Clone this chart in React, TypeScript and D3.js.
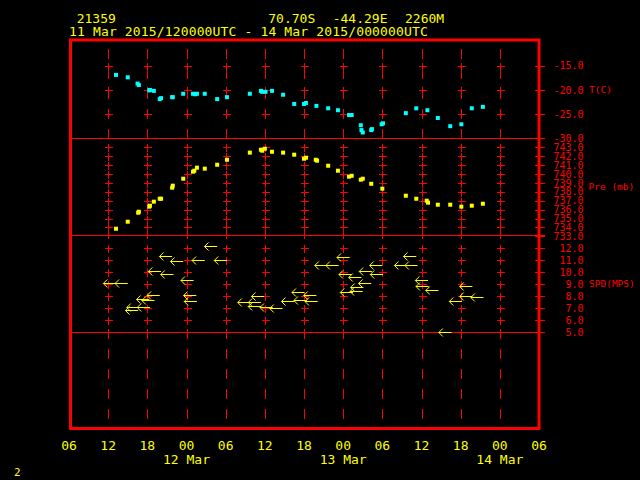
import React from 'react';
import * as d3 from 'd3';

// hours since 2015-03-11 00:00 UTC
const tHours = [13.2, 15.0, 16.5, 16.7, 18.3, 18.4, 19.0, 19.9, 20.1, 21.8, 21.9, 23.5, 25.0, 25.3, 25.6, 26.8, 28.7, 30.2, 33.7, 35.4, 35.6, 36.1, 37.1, 38.8, 40.5, 42.0, 42.3, 43.9, 45.7, 47.2, 48.9, 49.3, 50.7, 50.8, 51.0, 52.3, 52.4, 53.9, 54.1, 57.6, 59.2, 60.9, 62.5, 64.4, 66.1, 67.7, 69.4];
const tValues = [-16.9, -17.4, -18.7, -19.0, -20.1, -20.0, -20.2, -21.9, -21.7, -21.5, -21.5, -20.8, -20.8, -20.9, -20.8, -20.8, -21.9, -21.5, -20.8, -20.2, -20.4, -20.4, -20.2, -21.0, -22.9, -22.9, -22.7, -23.3, -23.8, -24.2, -25.2, -25.2, -27.3, -28.3, -28.8, -28.3, -28.1, -27.1, -26.9, -24.8, -23.8, -24.2, -25.8, -27.5, -27.1, -23.8, -23.5];

const pHours = [13.2, 15.0, 16.6, 16.7, 18.3, 18.4, 19.0, 19.9, 20.1, 21.8, 21.9, 23.5, 25.0, 25.2, 25.6, 26.8, 28.7, 30.2, 33.7, 35.4, 35.6, 36.0, 37.1, 38.8, 40.5, 42.0, 42.3, 43.8, 44.0, 45.7, 47.2, 48.9, 49.3, 50.7, 51.0, 52.3, 54.0, 57.6, 59.2, 60.8, 61.0, 62.5, 64.4, 66.1, 67.7, 69.4];
const pValues = [733.85, 734.64, 735.65, 735.76, 736.33, 736.44, 736.89, 737.22, 737.22, 738.46, 738.69, 739.47, 740.26, 740.37, 740.71, 740.6, 741.04, 741.6, 742.4, 742.73, 742.62, 742.84, 742.5, 742.4, 742.17, 741.72, 741.83, 741.6, 741.5, 740.93, 740.37, 739.7, 739.8, 739.36, 739.47, 738.9, 738.35, 737.56, 737.22, 737.0, 736.78, 736.55, 736.55, 736.33, 736.44, 736.66];

const wHours = [13.2, 15.0, 16.6, 16.8, 18.4, 18.3, 19.1, 19.9, 20.1, 21.8, 22.0, 23.5, 25.1, 25.5, 25.6, 26.8, 28.7, 30.2, 33.8, 35.4, 35.4, 35.9, 37.2, 38.7, 40.5, 42.1, 42.4, 43.9, 44.1, 45.6, 47.3, 49.0, 49.3, 49.5, 50.8, 51.0, 51.1, 52.3, 52.4, 54.0, 54.1, 57.8, 59.2, 59.4, 61.0, 61.1, 62.6, 64.6, 66.2, 67.8, 67.8, 69.5];
const wSpeeds = [9.08, 9.08, 6.88, 7.15, 7.07, 7.8, 7.72, 8.08, 10.08, 11.33, 9.82, 10.98, 9.33, 8.08, 7.63, 11.03, 12.19, 11.03, 7.5, 7.55, 7.18, 8.03, 7.09, 7.04, 7.63, 8.32, 7.68, 8.09, 7.63, 10.61, 10.61, 11.28, 9.82, 8.36, 9.61, 8.42, 8.75, 9.11, 10.07, 10.58, 9.88, 10.59, 11.34, 10.59, 9.33, 8.84, 8.54, 5.05, 7.57, 8.84, 8.0, 7.98];

const hourTickLabels = ['06', '12', '18', '00', '06', '12', '18', '00', '06', '12', '18', '00', '06'];
const dayLabels = ['12 Mar', '13 Mar', '14 Mar'];
const dayHours = [24, 48, 72];
const tTicks = [-15, -20, -25, -30];
const pTicks = [743, 742, 741, 740, 739, 738, 737, 736, 735, 734, 733];
const wTicks = [12, 11, 10, 9, 8, 7, 6, 5];

const RED = '#ff0000';
const YEL = '#ffff00';
const CYAN = '#00ffff';
const FONT = '"DejaVu Sans Mono", monospace';

export default function App() {
  const x = d3.scaleLinear().domain([6, 78]).range([69, 539]);
  const yT = d3.scaleLinear().domain([-15, -30]).range([65.7, 138.3]);
  const yP = d3.scaleLinear().domain([743, 733]).range([147.3, 236.3]);
  const yW = d3.scaleLinear().domain([12, 5]).range([248.3, 332.3]);

  const hourTicks = d3.range(6, 79, 6);
  const gridHours = hourTicks.slice(1, -1);
  const dashes = [[49, 59], [69, 79], [89, 99], [109, 119], [129, 138], [229, 239], [329, 339], [349, 359], [369, 379], [389, 399], [409, 419]];
  const crossYs = [
    ...tTicks.slice(0, -1).map((v) => yT(v)),
    ...pTicks.slice(0, -1).map((v) => yP(v)),
    ...wTicks.slice(0, -1).map((v) => yW(v)),
  ];
  const rightYs = [
    ...tTicks.map((v) => yT(v)),
    ...pTicks.map((v) => yP(v)),
    ...wTicks.map((v) => yW(v)),
  ];

  const gridPath = gridHours
    .map((h) => {
      const gx = Math.round(x(h)) + 0.5;
      const d = dashes.map(([a, b]) => `M${gx},${a}V${b}`).join('');
      const c = crossYs
        .map((cy) => {
          const yy = Math.round(cy) + 0.5;
          return `M${gx - 3.5},${yy}H${gx + 4}M${gx},${yy - 4}V${yy + 4}`;
        })
        .join('');
      return d + c;
    })
    .join('');
  const rightPath = rightYs.map((cy) => `M535,${Math.round(cy) + 0.5}H544.5`).join('');

  const arrowPath = wHours
    .map((h, i) => {
      const tail = x(h);
      const y = Math.round(yW(wSpeeds[i])) + 0.5;
      const tip = tail - 12.7;
      return `M${tail},${y}H${tip}M${tip + 4},${y - 4}L${tip},${y}L${tip + 4},${y + 4}`;
    })
    .join('');

  const label = (txt: string, y: number, key: string) => (
    <text key={key} x={583.5} y={y + 3.6} textAnchor="end" fontSize={10} fill={RED} fontFamily={FONT}>
      {txt}
    </text>
  );

  return (
    <div style={{ position: 'fixed', left: 0, top: 0, width: 640, height: 480, background: '#000' }}>
      <svg width={640} height={480} style={{ display: 'block', background: '#000' }}>
        <g fontFamily={FONT} fill={YEL} fontSize={13}>
          <text x={76.7} y={23.3}>21359</text>
          <text x={268.3} y={23.3}>70.70S</text>
          <text x={332.7} y={23.3}>-44.29E</text>
          <text x={405} y={23.3}>2260M</text>
          <text x={69} y={35.7} letterSpacing={0.15}>11 Mar 2015/120000UTC - 14 Mar 2015/000000UTC</text>
        </g>

        <path d={gridPath} stroke={RED} strokeWidth={1} fill="none" shapeRendering="crispEdges" />
        <path d={rightPath} stroke={RED} strokeWidth={1} fill="none" shapeRendering="crispEdges" />
        <g stroke={RED} strokeWidth={1} shapeRendering="crispEdges">
          <line x1={70} x2={545} y1={138.5} y2={138.5} />
          <line x1={70} x2={545} y1={235.5} y2={235.5} />
          <line x1={70} x2={545} y1={332.5} y2={332.5} />
        </g>
        <rect x={70.5} y={40} width={468.5} height={388.5} fill="none" stroke={RED} strokeWidth={3} />

        {tHours.map((h, i) => (
          <rect key={'t' + i} x={x(h) - 2} y={yT(tValues[i]) - 2} width={4} height={4} fill={CYAN} />
        ))}
        {pHours.map((h, i) => (
          <rect key={'p' + i} x={x(h) - 2} y={yP(pValues[i]) - 2} width={4} height={4} fill={YEL} />
        ))}
        <path d={arrowPath} stroke={YEL} strokeWidth={1} fill="none" />

        {tTicks.map((v) => label(v.toFixed(1), yT(v), 'lt' + v))}
        {pTicks.map((v) => label(v.toFixed(1), yP(v), 'lp' + v))}
        {wTicks.map((v) => label(v.toFixed(1), yW(v), 'lw' + v))}

        <g fontFamily={FONT} fill={RED} fontSize={9.5}>
          <text x={589} y={90 + 3.4}>T(C)</text>
          <text x={588.5} y={186.7 + 3.4}>Pre (mb)</text>
          <text x={589} y={284 + 3.4}>SPD(MPS)</text>
        </g>

        <g fontFamily={FONT} fill={YEL} fontSize={13} textAnchor="middle">
          {hourTicks.map((h, i) => (
            <text key={'h' + i} x={x(h)} y={450}>{hourTickLabels[i]}</text>
          ))}
          {dayHours.map((h, i) => (
            <text key={'d' + i} x={x(h)} y={464}>{dayLabels[i]}</text>
          ))}
        </g>
        <text x={14} y={476} fontFamily={FONT} fontSize={11} fill={YEL}>2</text>
      </svg>
    </div>
  );
}
